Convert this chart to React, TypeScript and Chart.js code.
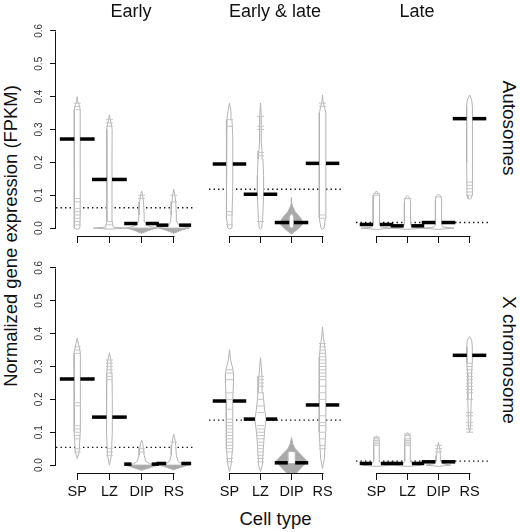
import React, { useEffect, useRef } from "react";
import { Chart, registerables } from "chart.js";
Chart.register(...registerables);

const cellTypes = ["SP", "LZ", "DIP", "RS"];
const groups = ["Early", "Early & late", "Late"];
const chromosomes = ["Autosomes", "X chromosome"];
const yTicks = [0, 0.1, 0.2, 0.3, 0.4, 0.5, 0.6];

// bean averages [group][cell type]
const autoMeans = [[0.271, 0.148, 0.014, 0.009], [0.195, 0.103, 0.017, 0.197], [0.011, 0.007, 0.017, 0.333]];
const xMeans = [[0.262, 0.146, 0.003, 0.005], [0.195, 0.14, 0.007, 0.183], [0.005, 0.005, 0.01, 0.334]];
// overall averages per group
const autoOverall = [0.062, 0.118, 0.017];
const xOverall = [0.054, 0.137, 0.012];

// density outlines: [value, half width of bean]
const autoEarlyBeans = [
  [[-0.004, 0], [0, 0.08], [0.05, 0.095], [0.15, 0.095], [0.25, 0.09], [0.33, 0.09], [0.36, 0.095], [0.375, 0.06], [0.385, 0.02], [0.4, 0]],
  [[-0.003, 0], [0, 0.5], [0.003, 0.12], [0.02, 0.08], [0.1, 0.08], [0.2, 0.08], [0.3, 0.085], [0.32, 0.05], [0.345, 0]],
  [[0, 0], [0, 0.5], [0.004, 0.3], [0.01, 0.15], [0.02, 0.1], [0.04, 0.08], [0.08, 0.06], [0.1, 0.035], [0.113, 0]],
  [[0, 0], [0, 0.5], [0.004, 0.3], [0.01, 0.14], [0.02, 0.1], [0.04, 0.08], [0.08, 0.06], [0.1, 0.035], [0.118, 0]],
];
const autoEarlyDense = [null, null,
  [[-0.016, 0], [-0.008, 0.2], [0, 0.45], [0.002, 0]],
  [[-0.016, 0], [-0.008, 0.2], [0, 0.45], [0.002, 0]]];

const autoBothBeans = [
  [[-0.003, 0], [0, 0.05], [0.03, 0.08], [0.1, 0.1], [0.2, 0.11], [0.28, 0.1], [0.33, 0.08], [0.355, 0.05], [0.38, 0]],
  [[-0.003, 0], [0, 0.04], [0.03, 0.07], [0.1, 0.1], [0.16, 0.1], [0.21, 0.08], [0.235, 0.05], [0.26, 0.03], [0.34, 0.025], [0.38, 0]],
  [[0, 0], [0.003, 0.08], [0.035, 0.07], [0.045, 0]],
  [[-0.003, 0], [0, 0.05], [0.03, 0.09], [0.1, 0.11], [0.2, 0.11], [0.3, 0.11], [0.35, 0.1], [0.37, 0.06], [0.385, 0.02], [0.405, 0]],
];
const autoBothDense = [null, null,
  [[-0.018, 0], [0, 0.25], [0.015, 0.38], [0.03, 0.3], [0.05, 0.12], [0.065, 0.04], [0.075, 0.015], [0.093, 0]], null];

const autoLateBeans = [
  [[-0.004, 0], [0, 0.5], [0.003, 0.15], [0.01, 0.11], [0.09, 0.11], [0.1, 0.09], [0.107, 0.05], [0.113, 0]],
  [[-0.004, 0], [0, 0.5], [0.003, 0.15], [0.01, 0.1], [0.08, 0.1], [0.09, 0.08], [0.095, 0.04], [0.099, 0]],
  [[-0.004, 0], [0, 0.5], [0.003, 0.15], [0.01, 0.1], [0.085, 0.1], [0.095, 0.08], [0.1, 0.04], [0.104, 0]],
  [[0.088, 0], [0.09, 0.05], [0.1, 0.08], [0.2, 0.09], [0.3, 0.095], [0.37, 0.095], [0.39, 0.07], [0.405, 0]],
];
const autoLateDense = [null, null, null, null];

const xEarlyBeans = [
  [[0.02, 0], [0.04, 0.06], [0.1, 0.09], [0.2, 0.09], [0.3, 0.1], [0.34, 0.1], [0.36, 0.06], [0.386, 0]],
  [[0, 0], [0.03, 0.06], [0.1, 0.09], [0.2, 0.09], [0.28, 0.08], [0.32, 0.05], [0.342, 0]],
  [[0, 0], [0, 0.5], [0.004, 0.25], [0.012, 0.13], [0.03, 0.08], [0.05, 0.06], [0.065, 0.035], [0.076, 0]],
  [[0, 0], [0, 0.5], [0.004, 0.25], [0.012, 0.13], [0.03, 0.08], [0.06, 0.06], [0.08, 0.035], [0.094, 0]],
];
const xEarlyDense = [null, null,
  [[-0.016, 0], [-0.008, 0.25], [0, 0.5], [0.002, 0]],
  [[-0.014, 0], [-0.007, 0.22], [0, 0.45], [0.002, 0]]];

const xBothBeans = [
  [[-0.02, 0], [0, 0.05], [0.05, 0.1], [0.15, 0.1], [0.2, 0.11], [0.25, 0.13], [0.28, 0.13], [0.3, 0.09], [0.32, 0.035], [0.351, 0]],
  [[-0.02, 0], [0, 0.06], [0.05, 0.09], [0.1, 0.13], [0.14, 0.18], [0.17, 0.13], [0.22, 0.08], [0.27, 0.05], [0.3, 0.025], [0.327, 0]],
  [[0.004, 0], [0.005, 0.12], [0.04, 0.12], [0.042, 0]],
  [[-0.01, 0], [0.02, 0.06], [0.1, 0.1], [0.2, 0.11], [0.25, 0.11], [0.33, 0.1], [0.37, 0.06], [0.39, 0.025], [0.42, 0]],
];
const xBothDense = [null, null,
  [[-0.04, 0], [-0.02, 0.2], [0, 0.4], [0.015, 0.48], [0.03, 0.32], [0.05, 0.12], [0.065, 0.04], [0.084, 0]], null];

const xLateBeans = [
  [[-0.004, 0], [0, 0.45], [0.004, 0.15], [0.012, 0.09], [0.07, 0.09], [0.08, 0.07], [0.089, 0]],
  [[-0.004, 0], [0, 0.45], [0.004, 0.15], [0.012, 0.09], [0.08, 0.09], [0.09, 0.07], [0.099, 0]],
  [[-0.004, 0], [0, 0.4], [0.004, 0.15], [0.012, 0.08], [0.03, 0.06], [0.05, 0.045], [0.069, 0]],
  [[0.099, 0], [0.12, 0.035], [0.2, 0.055], [0.28, 0.065], [0.31, 0.085], [0.36, 0.09], [0.38, 0.07], [0.391, 0]],
];
const xLateDense = [null, null, null, null];

// individual gene values drawn as bean lines [cell type][...]
const autoEarlyLines = [[0.38, 0.37, 0.36, 0.09, 0.08, 0.06, 0.05, 0.04, 0.03, 0.02, 0.01], [0.33, 0.32, 0.31, 0.02, 0.01], [0.1, 0.09], [0.1, 0.08]];
const autoBothLines = [[0.33, 0.31, 0.05, 0.04, 0.01], [0.34, 0.31, 0.3, 0.23, 0.22, 0.02], [], [0.37, 0.38, 0.04, 0.03]];
const autoLateLines = [[0.105, 0.1], [0.09], [0.095], [0.14, 0.13, 0.12, 0.11, 0.1]];
const xEarlyLines = [[0.36, 0.35, 0.34, 0.19, 0.18, 0.12, 0.11, 0.1, 0.09, 0.08, 0.05, 0.04],
  [0.32, 0.31, 0.3, 0.29, 0.28, 0.27, 0.26, 0.05, 0.04, 0.03], [0.05, 0.04], [0.07]];
const xBothLines = [
  [0.29, 0.28, 0.26, 0.22, 0.2, 0.17, 0.14, 0.13, 0.12, 0.11, 0.1, 0.09, 0.08, 0.07, 0.06, 0.05, 0.04, 0.02, 0.01],
  [0.27, 0.26, 0.25, 0.24, 0.22, 0.2, 0.18, 0.16, 0.12, 0.11, 0.1, 0.09, 0.08, 0.07, 0.06, 0.05, 0.04, 0.03, 0.02, 0.01],
  [],
  [0.37, 0.36, 0.35, 0.34, 0.33, 0.32, 0.31, 0.3, 0.29, 0.28, 0.27, 0.26, 0.24, 0.22, 0.2, 0.15, 0.13, 0.12, 0.1, 0.08, 0.06, 0.05]];
const xLateLines = [[0.085, 0.08, 0.075, 0.07, 0.065, 0.06], [0.095, 0.09, 0.08, 0.075, 0.07, 0.065, 0.06], [0.06, 0.05, 0.04],
  [0.31, 0.3, 0.29, 0.28, 0.27, 0.26, 0.25, 0.24, 0.23, 0.22, 0.2, 0.16, 0.15, 0.13, 0.12, 0.11, 0.1]];

const beansByPanel = [[autoEarlyBeans, autoBothBeans, autoLateBeans], [xEarlyBeans, xBothBeans, xLateBeans]];
const denseByPanel = [[autoEarlyDense, autoBothDense, autoLateDense], [xEarlyDense, xBothDense, xLateDense]];
const linesByPanel = [[autoEarlyLines, autoBothLines, autoLateLines], [xEarlyLines, xBothLines, xLateLines]];
const meansByRow = [autoMeans, xMeans];
const overallByRow = [autoOverall, xOverall];

// ---- styling / layout ----
const FONT = "'Liberation Sans', Arial, sans-serif";
const INK = "#111";
const GREY = "#b4b4b4";
const LINE_GREY = "#c6c6c6";
const DENSE = "#a9a9a9";
const XMIN = 0.34, XMAX = 4.66, YMIN = -0.024, YMAX = 0.624;
const MEAN_HALF = 0.54;
const PLOT_LEFT = [56, 204, 351];
const PLOT_TOP = [18, 255];
const PLOT_W = 144, PLOT_H = 218;
const YAXIS_W = 34;

function beanPolygon(cx: number, prof: number[][]) {
  const right = prof.map(([y, w]) => ({ x: cx + w, y }));
  const left = prof.slice().reverse().map(([y, w]) => ({ x: cx - w, y }));
  return [...right, ...left];
}

// half width of a bean outline at value v (for the white break in the average line)
function widthAt(prof: number[][], v: number) {
  for (let i = 0; i < prof.length - 1; i++) {
    const [y0, w0] = prof[i], [y1, w1] = prof[i + 1];
    if (v >= y0 && v <= y1) {
      if (y1 === y0) return Math.max(w0, w1);
      return w0 + ((v - y0) / (y1 - y0)) * (w1 - w0);
    }
  }
  return 0;
}

const rAxes = {
  id: "rAxes",
  afterDraw(chart: any, _a: any, opts: any) {
    const { ctx, chartArea, scales } = chart;
    const x = scales.x, y = scales.y;
    ctx.save();
    ctx.strokeStyle = INK;
    ctx.lineWidth = 1;
    const yb = Math.round(chartArea.bottom) + 0.5;
    ctx.beginPath();
    ctx.moveTo(Math.round(x.getPixelForValue(1)) + 0.5, yb);
    ctx.lineTo(Math.round(x.getPixelForValue(4)) + 0.5, yb);
    ctx.stroke();
    if (opts.showY) {
      const xl = Math.round(chartArea.left) - 0.5;
      ctx.beginPath();
      ctx.moveTo(xl, Math.round(y.getPixelForValue(0)) + 0.5);
      ctx.lineTo(xl, Math.round(y.getPixelForValue(0.6)) + 0.5);
      ctx.stroke();
    }
    ctx.restore();
  },
};

function Panel({ row, col }: { row: number; col: number }) {
  const ref = useRef<HTMLCanvasElement>(null);
  const showY = col === 0;
  const showXLabels = row === 1;
  const yAxisW = showY ? YAXIS_W : 0;
  const left = PLOT_LEFT[col] - yAxisW;
  const width = PLOT_W + yAxisW;
  const xAxisH = showXLabels ? 32 : 8;
  const height = PLOT_H + xAxisH;

  useEffect(() => {
    const beans = beansByPanel[row][col];
    const dense = denseByPanel[row][col];
    const lines = linesByPanel[row][col];
    const means = meansByRow[row][col];
    const overall = overallByRow[row][col];
    const datasets: any[] = [];
    datasets.push({
      data: [{ x: XMIN, y: overall }, { x: XMAX, y: overall }],
      borderColor: INK, borderWidth: 1.4, borderDash: [1.4, 3.1], order: 10, fill: false,
    });
    dense.forEach((p: any, i: number) => {
      if (p) datasets.push({ data: beanPolygon(i + 1, p), borderColor: GREY, backgroundColor: DENSE, borderWidth: 1, fill: "shape", order: 8 });
    });
    beans.forEach((p: number[][], i: number) => {
      datasets.push({ data: beanPolygon(i + 1, p), borderColor: GREY, backgroundColor: "#fff", borderWidth: 1, fill: "shape", order: 7 });
    });
    means.forEach((m: number, i: number) => {
      const g = widthAt(beans[i], m);
      const cx = i + 1;
      const segs = g > 0 ? [[cx - MEAN_HALF, cx - g], [cx + g, cx + MEAN_HALF]] : [[cx - MEAN_HALF, cx + MEAN_HALF]];
      segs.forEach(([a, b]) => {
        datasets.push({
          data: [{ x: a, y: m }, { x: b, y: m }],
          borderColor: "#000", borderWidth: 3.5, borderCapStyle: "butt", order: 6, fill: false,
        });
      });
    });
    lines.forEach((vals: number[], i: number) => {
      if (!vals.length) return;
      datasets.push({
        type: "scatter",
        data: vals.map((v) => ({ x: i + 1, y: v })),
        showLine: false, pointStyle: "line", pointRadius: 3.5, pointBorderWidth: 1,
        pointBorderColor: LINE_GREY, borderColor: LINE_GREY, order: 5,
      });
    });

    const chart = new Chart(ref.current as HTMLCanvasElement, {
      type: "line",
      data: { datasets },
      plugins: [rAxes as any],
      options: {
        responsive: false,
        animation: false,
        events: [],
        layout: { padding: 0 },
        elements: { point: { radius: 0 }, line: { tension: 0 } },
        plugins: { legend: { display: false }, tooltip: { enabled: false }, rAxes: { showY } } as any,
        scales: {
          x: {
            type: "linear", min: XMIN, max: XMAX,
            afterBuildTicks: (s: any) => { s.ticks = [1, 2, 3, 4].map((v) => ({ value: v })); },
            afterFit: (s: any) => { s.height = xAxisH; s.paddingLeft = 0; s.paddingRight = 0; },
            ticks: {
              display: showXLabels, autoSkip: false, maxRotation: 0, minRotation: 0, padding: 3,
              color: INK, font: { family: FONT, size: 14.5 },
              callback: (_v: any, i: number) => cellTypes[i],
            },
            grid: { drawOnChartArea: false, drawTicks: true, tickLength: 7, color: INK, lineWidth: 1 },
            border: { display: false },
          },
          y: {
            type: "linear", min: YMIN, max: YMAX, display: showY,
            afterBuildTicks: (s: any) => { s.ticks = yTicks.map((v) => ({ value: v })); },
            afterFit: (s: any) => { s.width = yAxisW; s.paddingTop = 0; s.paddingBottom = 0; },
            ticks: {
              minRotation: 90, maxRotation: 90, crossAlign: "center", padding: 4,
              color: "#333", font: { family: FONT, size: 10 },
              callback: (v: any) => Number(v).toFixed(1),
            },
            grid: { drawOnChartArea: false, drawTicks: true, tickLength: 6, color: INK, lineWidth: 1 },
            border: { display: false },
          },
        },
      } as any,
    });
    return () => chart.destroy();
  }, [row, col]);

  return (
    <canvas
      ref={ref}
      width={width}
      height={height}
      style={{ position: "absolute", left, top: PLOT_TOP[row], width, height }}
    />
  );
}

function Label({ x, y, text, size, rotate = 0 }: { x: number; y: number; text: string; size: number; rotate?: number }) {
  return (
    <div
      style={{
        position: "absolute", left: x, top: y, whiteSpace: "nowrap",
        fontSize: size, lineHeight: 1, color: INK, fontFamily: FONT,
        transform: `translate(-50%, -50%) rotate(${rotate}deg)`,
      }}
    >
      {text}
    </div>
  );
}

export default function App() {
  const titleX = [131, 275, 417];
  const stripY = [127.5, 360];
  return (
    <div style={{ position: "absolute", left: 0, top: 0, width: 520, height: 532, background: "#fff", overflow: "hidden", fontFamily: FONT }}>
      {[0, 1].map((r) => [0, 1, 2].map((c) => <Panel key={`${r}-${c}`} row={r} col={c} />))}
      {groups.map((g, i) => <Label key={g} x={titleX[i]} y={11} text={g} size={18} />)}
      {chromosomes.map((t, i) => <Label key={t} x={509} y={stripY[i]} text={t} size={19} rotate={90} />)}
      <Label x={11} y={236} text="Normalized gene expression (FPKM)" size={18.4} rotate={-90} />
      <Label x={275.5} y={519} text="Cell type" size={18.5} />
    </div>
  );
}
